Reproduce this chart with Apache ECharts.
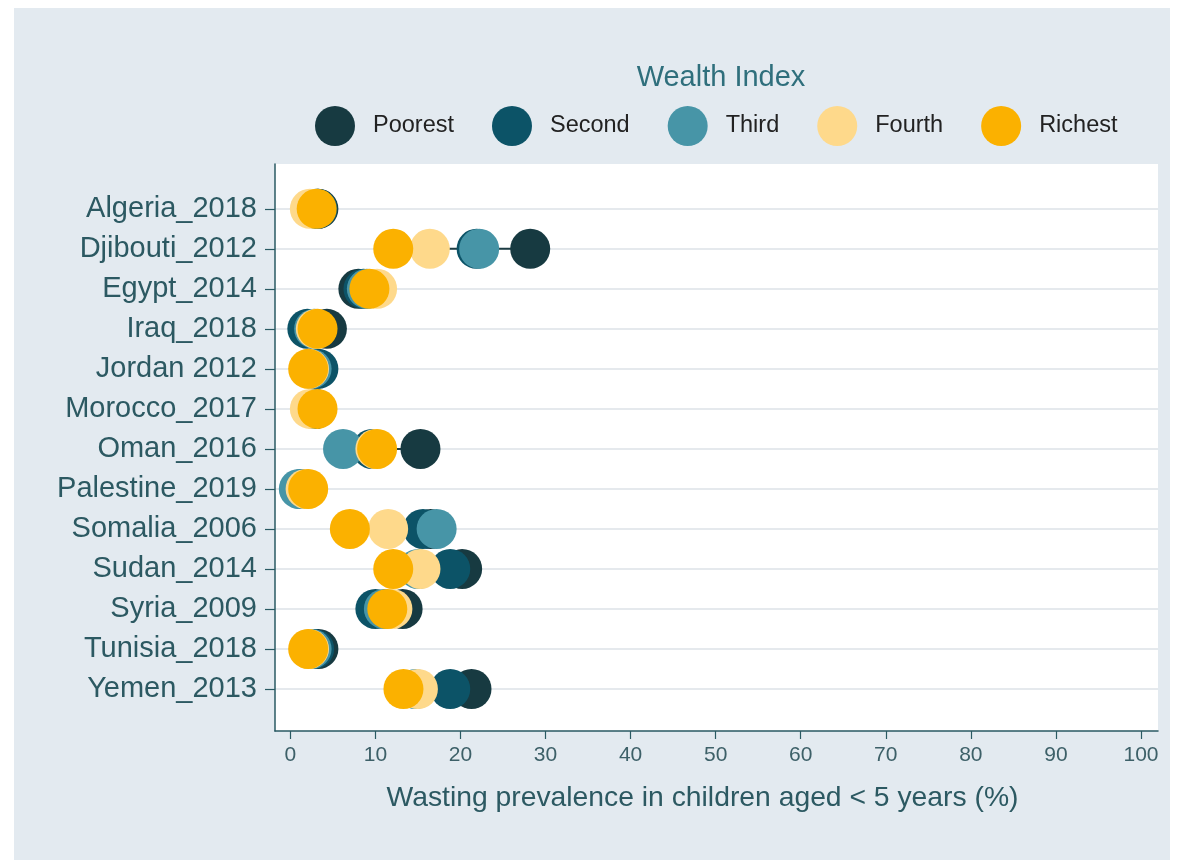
<!DOCTYPE html>
<html>
<head>
<meta charset="utf-8">
<title>Wasting prevalence by wealth index</title>
<script src="https://cdn.jsdelivr.net/npm/echarts@6/dist/echarts.min.js"></script>
<style>
  html, body { margin: 0; padding: 0; background: #ffffff; }
  #chart { width: 1183px; height: 864px; }
</style>
</head>
<body>
<div id="chart"></div>
<script>
// Survey rows, top to bottom
const countries = [
  'Algeria_2018', 'Djibouti_2012', 'Egypt_2014', 'Iraq_2018', 'Jordan 2012',
  'Morocco_2017', 'Oman_2016', 'Palestine_2019', 'Somalia_2006', 'Sudan_2014',
  'Syria_2009', 'Tunisia_2018', 'Yemen_2013'
];

// Wasting prevalence (%) by wealth quintile, one value per row above
const poorest = [3.3, 28.2, 8.0, 4.3, 3.0, 3.0, 15.3, 1.5, 16.5, 20.2, 13.2, 3.3, 21.3];
const second  = [3.2, 21.9, 8.6, 2.0, 3.3, 2.9, 9.6, 1.3, 15.6, 18.8, 10.0, 2.8, 18.8];
const third   = [3.0, 22.2, 9.0, 2.8, 2.5, 2.7, 6.2, 1.0, 17.2, 15.0, 11.0, 2.5, 14.7];
const fourth  = [2.3, 16.4, 10.2, 3.0, 2.2, 2.3, 10.0, 1.8, 11.5, 15.3, 12.0, 2.2, 15.0];
const richest = [3.1, 12.1, 9.3, 3.2, 2.1, 3.2, 10.2, 2.1, 7.0, 12.1, 11.4, 2.1, 13.3];

const groupNames = ['Poorest', 'Second', 'Third', 'Fourth', 'Richest'];
const groupValues = [poorest, second, third, fourth, richest];
const groupColors = ['#173a41', '#0c5367', '#4795a7', '#fed98b', '#fbb100'];

const xTicks = [0, 10, 20, 30, 40, 50, 60, 70, 80, 90, 100];
const rowIndex = countries.map((_, i) => i);

const axisText = '#2c5962';
const font = '"Liberation Sans", Arial, Helvetica, sans-serif';

// min/max span of each row, drawn as a thin connector behind the dots
const spans = rowIndex.map(i => {
  const vals = groupValues.map(g => g[i]);
  return [i, Math.min(...vals), Math.max(...vals)];
});

const chart = echarts.init(document.getElementById('chart'), null, { renderer: 'canvas' });

const scatterSeries = groupNames.map((name, k) => ({
  name: name,
  type: 'scatter',
  symbol: 'circle',
  symbolSize: 40,
  z: 3 + k,
  itemStyle: { color: groupColors[k], opacity: 1 },
  data: groupValues[k].map((v, i) => [v, i])
}));

chart.setOption({
  animation: false,
  backgroundColor: '#ffffff',
  textStyle: { fontFamily: font },
  graphic: [{
    type: 'rect',
    z: -10,
    silent: true,
    shape: { x: 14, y: 8, width: 1156, height: 852 },
    style: { fill: '#e3eaf0' }
  }],
  title: {
    text: 'Wealth Index',
    left: 716,
    textAlign: 'center',
    top: 58,
    textStyle: { fontFamily: font, fontSize: 29, fontWeight: 'normal', color: '#2f6f7c' }
  },
  legend: {
    data: groupNames,
    left: 310,
    top: 101,
    orient: 'horizontal',
    icon: 'circle',
    itemWidth: 40,
    itemHeight: 40,
    itemGap: 38,
    textStyle: { fontFamily: font, fontSize: 23.5, color: '#222222', padding: [0, 0, 0, 13] }
  },
  grid: {
    left: 275,
    right: 25,
    top: 164,
    bottom: 133,
    show: true,
    backgroundColor: '#ffffff',
    borderWidth: 0
  },
  xAxis: {
    type: 'value',
    min: -1.8,
    max: 102,
    name: 'Wasting prevalence in children aged < 5 years (%)',
    nameLocation: 'middle',
    nameGap: 53,
    nameTextStyle: { fontFamily: font, fontSize: 28.3, color: axisText, padding: [0, 28, 0, 0] },
    axisLine: { show: true, onZero: false, lineStyle: { color: '#2a5a63', width: 1.5 } },
    axisTick: { show: true, inside: false, length: 8, customValues: xTicks, lineStyle: { color: '#2a5a63', width: 1.2 } },
    axisLabel: { customValues: xTicks, margin: 14, fontFamily: font, fontSize: 21, color: '#3d6068' },
    splitLine: { show: false }
  },
  yAxis: {
    type: 'value',
    inverse: true,
    min: -1.12,
    max: 13.05,
    axisLine: { show: true, onZero: false, lineStyle: { color: '#2a5a63', width: 1.5 } },
    axisTick: { show: true, inside: false, length: 10, customValues: rowIndex, lineStyle: { color: '#2a5a63', width: 1.2 } },
    axisLabel: {
      customValues: rowIndex,
      margin: 18,
      fontFamily: font,
      fontSize: 29,
      color: axisText,
      formatter: v => countries[Math.round(v)]
    },
    splitLine: { show: true, lineStyle: { color: '#dde2e7', width: 1.5 } }
  },
  series: [{
    name: 'span',
    type: 'custom',
    z: 2,
    silent: true,
    data: spans,
    encode: { x: [1, 2], y: 0 },
    renderItem: (params, api) => {
      const row = api.value(0);
      const a = api.coord([api.value(1), row]);
      const b = api.coord([api.value(2), row]);
      return {
        type: 'line',
        shape: { x1: a[0], y1: a[1], x2: b[0], y2: b[1] },
        style: { stroke: '#1d3c43', lineWidth: 2 }
      };
    }
  }].concat(scatterSeries)
});
</script>
</body>
</html>
